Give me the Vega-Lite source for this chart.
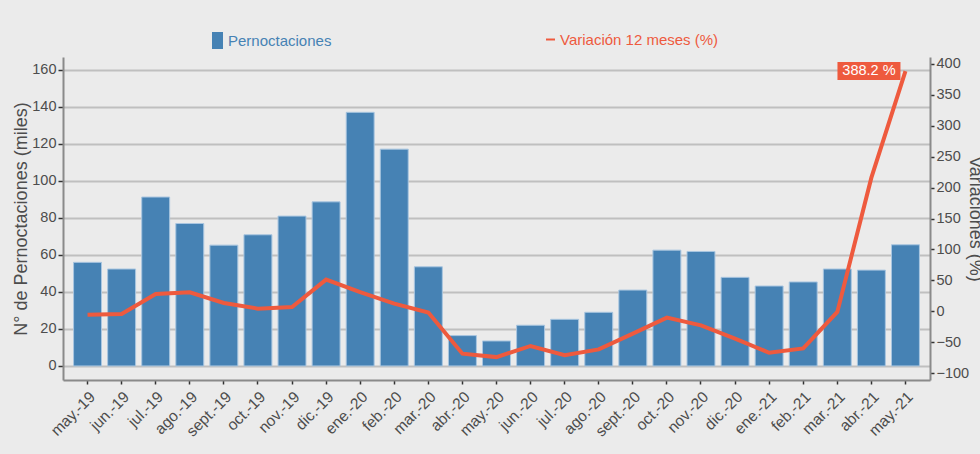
{
  "$schema": "https://vega.github.io/schema/vega-lite/v6.json",
  "width": 867,
  "height": 323,
  "autosize": {"type": "none"},
  "padding": {"left": 63, "top": 57, "right": 50, "bottom": 74},
  "background": "#ebebeb",
  "config": {
    "view": {"stroke": null},
    "font": "Liberation Sans",
    "axis": {
      "labelFont": "Liberation Sans",
      "labelFontSize": 14.5,
      "labelColor": "#4d4d4d",
      "titleFont": "Liberation Sans",
      "titleFontSize": 18,
      "titleFontWeight": "normal",
      "titleColor": "#4d4d4d",
      "domainColor": "#8a8a8a",
      "domainWidth": 2,
      "tickColor": "#333333",
      "tickWidth": 1.5,
      "tickSize": 4,
      "gridColor": "#bfbfbf",
      "gridWidth": 2,
      "labelOverlap": false
    }
  },
  "data": {
    "values": [
      {"mes": "may.-19", "pern": 56.0, "var": -5.4},
      {"mes": "jun.-19", "pern": 52.4, "var": -4.3},
      {"mes": "jul.-19", "pern": 91.3, "var": 28.0},
      {"mes": "ago.-19", "pern": 77.0, "var": 30.7},
      {"mes": "sept.-19", "pern": 65.3, "var": 13.5},
      {"mes": "oct.-19", "pern": 70.9, "var": 4.3},
      {"mes": "nov.-19", "pern": 81.0, "var": 7.0},
      {"mes": "dic.-19", "pern": 88.7, "var": 51.3},
      {"mes": "ene.-20", "pern": 137.1, "var": 31.0},
      {"mes": "feb.-20", "pern": 117.2, "var": 12.4},
      {"mes": "mar.-20", "pern": 53.6, "var": -2.0},
      {"mes": "abr.-20", "pern": 16.4, "var": -68.5},
      {"mes": "may.-20", "pern": 13.5, "var": -74.0},
      {"mes": "jun.-20", "pern": 22.0, "var": -56.0},
      {"mes": "jul.-20", "pern": 25.2, "var": -71.0},
      {"mes": "ago.-20", "pern": 29.0, "var": -61.5},
      {"mes": "sept.-20", "pern": 41.0, "var": -36.0},
      {"mes": "oct.-20", "pern": 62.6, "var": -10.2},
      {"mes": "nov.-20", "pern": 61.9, "var": -22.6},
      {"mes": "dic.-20", "pern": 47.9, "var": -44.0},
      {"mes": "ene.-21", "pern": 43.2, "var": -67.0},
      {"mes": "feb.-21", "pern": 45.4, "var": -60.0},
      {"mes": "mar.-21", "pern": 52.4, "var": -1.0},
      {"mes": "abr.-21", "pern": 51.8, "var": 216.0},
      {"mes": "may.-21", "pern": 65.5, "var": 388.2, "etiqueta": "388.2 %"}
    ]
  },
  "encoding": {
    "x": {
      "field": "mes",
      "type": "nominal",
      "sort": null,
      "scale": {"paddingInner": 0.18, "paddingOuter": 0.31},
      "axis": {"title": null, "labelAngle": -45, "labelFontSize": 15.5, "grid": false, "tickSize": 4, "labelPadding": 5}
    }
  },
  "layer": [
    {
      "mark": {"type": "bar", "stroke": "#a9c6e0", "strokeWidth": 1},
      "encoding": {
        "y": {
          "field": "pern",
          "type": "quantitative",
          "scale": {"domain": [-7.6, 167], "nice": false, "zero": false},
          "axis": {
            "title": "N° de Pernoctaciones (miles)",
            "values": [0, 20, 40, 60, 80, 100, 120, 140, 160],
            "grid": true,
            "tickSize": 5,
            "labelPadding": 2,
            "titlePadding": 1
          }
        },
        "y2": {"datum": 0},
        "fill": {
          "datum": "Pernoctaciones",
          "scale": {"range": ["#4682b4"]},
          "legend": {
            "orient": "none",
            "legendX": 146,
            "legendY": -25,
            "title": null,
            "padding": 0,
            "labelColor": "#4682b4",
            "labelFontSize": 15,
            "labelOffset": 2,
            "symbolType": "M-0.647,-1H0.647V1H-0.647Z",
            "symbolSize": 289,
            "symbolStrokeWidth": 0
          }
        }
      }
    },
    {
      "encoding": {
        "y": {
          "field": "var",
          "type": "quantitative",
          "scale": {"domain": [-111, 411], "nice": false, "zero": false},
          "axis": {
            "orient": "right",
            "title": "Variaciones (%)",
            "titleAngle": 90,
            "values": [-100, -50, 0, 50, 100, 150, 200, 250, 300, 350, 400],
            "labelOverlap": false,
            "grid": false,
            "tickSize": 4,
            "labelPadding": 2,
            "titlePadding": -3
          }
        }
      },
      "layer": [
        {
          "mark": {"type": "line", "strokeWidth": 4},
          "encoding": {
            "stroke": {
              "datum": "Variación 12 meses (%)",
              "scale": {"range": ["#ee5a3e"]},
              "legend": {
                "orient": "none",
                "legendX": 480,
                "legendY": -25,
                "title": null,
                "padding": 0,
                "labelColor": "#ee5a3e",
                "labelFontSize": 15,
                "labelOffset": 2,
                "symbolType": "stroke",
                "symbolSize": 81,
                "symbolStrokeWidth": 2
              }
            }
          }
        },
        {
          "transform": [{"filter": "datum.etiqueta != null"}],
          "mark": {
            "type": "point",
            "shape": "M-1,-0.2857H1V0.2857H-1Z",
            "size": 3969,
            "filled": true,
            "fill": "#ee5a3e",
            "opacity": 1,
            "strokeWidth": 0,
            "xOffset": -36.5
          }
        },
        {
          "transform": [{"filter": "datum.etiqueta != null"}],
          "mark": {
            "type": "text",
            "color": "white",
            "fontSize": 14.5,
            "dx": -36.5,
            "align": "center",
            "baseline": "middle"
          },
          "encoding": {
            "text": {"field": "etiqueta"}
          }
        }
      ]
    }
  ],
  "resolve": {"scale": {"y": "independent"}}
}
